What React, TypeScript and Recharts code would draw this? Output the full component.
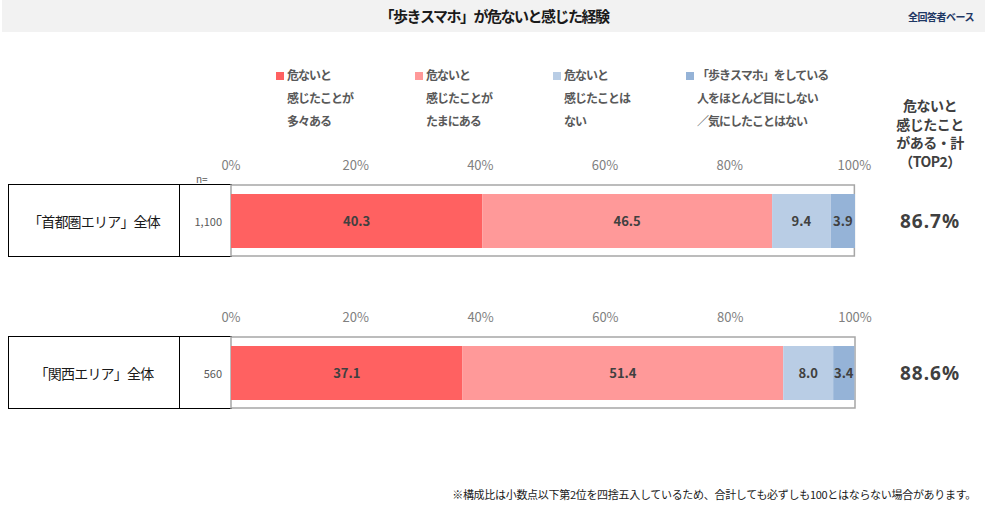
import React from 'react';
import { BarChart, Bar, XAxis, YAxis, LabelList, ReferenceArea } from 'recharts';

const categories = ['「首都圏エリア」全体', '「関西エリア」全体'];
const sampleSizes = ['1,100', '560'];
const seriesNames = [
    ['危ないと', '感じたことが', '多々ある'],
    ['危ないと', '感じたことが', 'たまにある'],
    ['危ないと', '感じたことは', 'ない'],
    ['「歩きスマホ」をしている', '人をほとんど目にしない', '／気にしたことはない'],
];
const oftenValues = [40.3, 37.1];
const sometimesValues = [46.5, 51.4];
const neverValues = [9.4, 8.0];
const notNoticedValues = [3.9, 3.4];
const top2Values = ['86.7%', '88.6%'];
const tickValues = [0, 20, 40, 60, 80, 100];

const seriesKeys = ['often', 'sometimes', 'never', 'notNoticed'];
const COLORS = ['#FF6161', '#FF9999', '#B9CDE5', '#95B3D7'];
const FONT = '"Noto Sans CJK JP", "Noto Sans", sans-serif';

const rows = categories.map((name, i) => ({
    name,
    often: oftenValues[i],
    sometimes: sometimesValues[i],
    never: neverValues[i],
    notNoticed: notNoticedValues[i],
}));

const PLOT_TOPS = [185, 337];
const PLOT_H = 71;

const Panel: React.FC<{ index: number }> = ({ index }) => {
    const plotTop = PLOT_TOPS[index];
    return (
        <>
            <div
                style={{
                    position: 'absolute',
                    left: 8,
                    top: plotTop - 1,
                    width: 223,
                    height: PLOT_H,
                    borderTop: '1.5px solid #000',
                    borderLeft: '1.5px solid #000',
                    borderBottom: '1.5px solid #000',
                }}
            >
                <div
                    style={{
                        position: 'absolute',
                        left: 0,
                        top: 0,
                        width: 170,
                        height: PLOT_H,
                        borderRight: '1.5px solid #000',
                        display: 'flex',
                        alignItems: 'center',
                        justifyContent: 'center',
                        fontSize: 14,
                        letterSpacing: -0.8,
                        color: '#1a1a1a',
                    }}
                >
                    {categories[index]}
                </div>
                <div
                    style={{
                        position: 'absolute',
                        right: 10,
                        top: 0,
                        height: PLOT_H,
                        display: 'flex',
                        alignItems: 'center',
                        fontSize: 11,
                        color: '#595959',
                    }}
                >
                    {sampleSizes[index]}
                </div>
            </div>
            {index === 0 && (
                <div style={{ position: 'absolute', left: 196, top: plotTop - 14, fontSize: 10, color: '#595959' }}>n=</div>
            )}
            <div style={{ position: 'absolute', left: 200, top: plotTop - 45 }}>
                <BarChart
                    width={700}
                    height={120}
                    layout="vertical"
                    data={[rows[index]]}
                    margin={{ top: 15, right: 45, bottom: 4, left: 31 }}
                >
                    <XAxis
                        type="number"
                        domain={[0, 100]}
                        ticks={tickValues}
                        orientation="top"
                        axisLine={false}
                        tickLine={false}
                        height={30}
                        tickMargin={9}
                        tickFormatter={(v: number) => `${v}%`}
                        tick={{ fill: '#808080', fontSize: 13, fontFamily: FONT }}
                    />
                    <YAxis type="category" dataKey="name" hide />
                    {seriesKeys.map((k, i) => (
                        <Bar key={k} dataKey={k} stackId="a" fill={COLORS[i]} barSize={54} isAnimationActive={false}>
                            <LabelList
                                dataKey={k}
                                position="center"
                                formatter={(v: any) => Number(v).toFixed(1)}
                                fill="#404040"
                                fontSize={13}
                                fontWeight="bold"
                                fontFamily={FONT}
                            />
                        </Bar>
                    ))}
                    <ReferenceArea x1={0} x2={100} fill="none" stroke="#a6a6a6" strokeWidth={1.5} ifOverflow="visible" />
                </BarChart>
            </div>
            <div
                style={{
                    position: 'absolute',
                    left: 880,
                    width: 100,
                    top: plotTop,
                    height: PLOT_H,
                    display: 'flex',
                    alignItems: 'center',
                    justifyContent: 'center',
                    fontSize: 19,
                    fontWeight: 'bold',
                    letterSpacing: 1,
                    color: '#404040',
                    fontFamily: '"Noto Sans", sans-serif',
                }}
            >
                {top2Values[index]}
            </div>
        </>
    );
};

const App: React.FC = () => {
    const legendLefts = [276, 415, 553, 686];
    return (
        <div
            style={{
                position: 'absolute',
                left: 0,
                top: 0,
                width: 988,
                height: 509,
                background: '#fff',
                fontFamily: FONT,
                overflow: 'hidden',
            }}
        >
            <div
                style={{
                    position: 'absolute',
                    left: 2,
                    top: 0,
                    width: 983,
                    height: 32,
                    background: '#f2f2f2',
                }}
            />
            <div
                style={{
                    position: 'absolute',
                    left: 0,
                    width: 988,
                    top: 5,
                    textAlign: 'center',
                    fontSize: 15,
                    fontWeight: 'bold',
                    letterSpacing: -1.5,
                    color: '#1a1a1a',
                }}
            >
                「歩きスマホ」が危ないと感じた経験
            </div>
            <div
                style={{
                    position: 'absolute',
                    right: 14,
                    top: 9,
                    fontSize: 10,
                    fontWeight: 'bold',
                    letterSpacing: -0.5,
                    color: '#1f3864',
                }}
            >
                全回答者ベース
            </div>

            {seriesNames.map((lines, i) => (
                <div key={i} style={{ position: 'absolute', left: legendLefts[i], top: 65 }}>
                    <div
                        style={{
                            position: 'absolute',
                            left: 0,
                            top: 7,
                            width: 8,
                            height: 8,
                            background: COLORS[i],
                        }}
                    />
                    {lines.map((t, j) => (
                        <div
                            key={j}
                            style={{
                                position: 'absolute',
                                left: 11,
                                top: j * 23,
                                whiteSpace: 'nowrap',
                                fontSize: 12,
                                fontWeight: 'bold',
                                letterSpacing: -1,
                                color: '#595959',
                                lineHeight: '20px',
                            }}
                        >
                            {t}
                        </div>
                    ))}
                </div>
            ))}

            <div
                style={{
                    position: 'absolute',
                    left: 880,
                    width: 100,
                    top: 96,
                    textAlign: 'center',
                    fontSize: 14,
                    fontWeight: 'bold',
                    lineHeight: '18.5px',
                    color: '#404040',
                    letterSpacing: -0.5,
                }}
            >
                危ないと
                <br />
                感じたこと
                <br />
                がある・計
                <br />
                （TOP2）
            </div>

            <Panel index={0} />
            <Panel index={1} />

            <div
                style={{
                    position: 'absolute',
                    right: 12,
                    top: 486,
                    fontSize: 11,
                    letterSpacing: -0.3,
                    color: '#1a1a1a',
                    whiteSpace: 'nowrap',
                }}
            >
                ※構成比は小数点以下第2位を四捨五入しているため、合計しても必ずしも100とはならない場合があります。
            </div>
        </div>
    );
};

export default App;
